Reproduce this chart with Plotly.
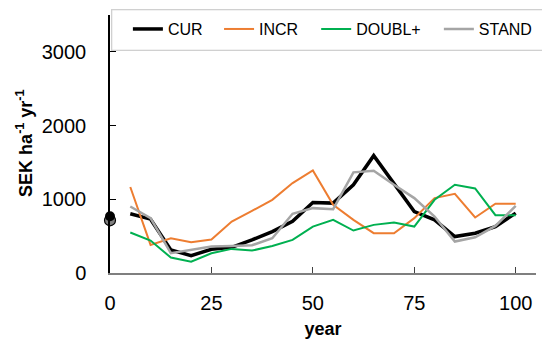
import plotly.graph_objects as go

years = [5, 10, 15, 20, 25, 30, 35, 40, 45, 50, 55, 60, 65, 70, 75, 80, 85, 90, 95, 100]
cur = [803, 730, 313, 236, 322, 349, 449, 562, 700, 957, 948, 1197, 1592, 1220, 834, 721, 494, 540, 630, 812]
incr = [1166, 381, 472, 417, 453, 698, 843, 993, 1220, 1392, 925, 721, 540, 540, 744, 1016, 1075, 753, 939, 939]
doubl = [549, 440, 209, 154, 268, 327, 304, 367, 449, 630, 721, 576, 653, 685, 630, 993, 1197, 1147, 785, 785]
stand = [902, 744, 268, 313, 358, 367, 376, 472, 803, 880, 866, 1365, 1388, 1197, 1016, 766, 426, 485, 639, 912]

start_year = [0]
cur_start = [770]
stand_start = [715]

names = ["CUR", "INCR", "DOUBL+", "STAND"]
colors = ["#000000", "#ED7D31", "#00B050", "#A5A5A5"]
widths = [3.5, 2, 2, 2.5]
series = [cur, incr, doubl, stand]

FONT = "Liberation Sans"
fig = go.Figure()

legend_x = [0.042, 0.256, 0.484, 0.772]
for i, (n, c, w, s) in enumerate(zip(names, colors, widths, series)):
    lg = "legend" if i == 0 else f"legend{i+1}"
    fig.add_trace(go.Scatter(x=years, y=s, mode="lines", name=n,
                             line=dict(color=c, width=w), legend=lg))

fig.add_trace(go.Scatter(x=start_year, y=stand_start, mode="markers", showlegend=False,
                         cliponaxis=False,
                         marker=dict(color="#7F7F7F", size=11, line=dict(color="#000000", width=1.2))))
fig.add_trace(go.Scatter(x=start_year, y=cur_start, mode="markers", showlegend=False,
                         cliponaxis=False,
                         marker=dict(color="#000000", size=10, line=dict(width=0))))

leg_common = dict(orientation="h", bgcolor="rgba(0,0,0,0)", borderwidth=0,
                  font=dict(family=FONT, size=16, color="#000000"),
                  xanchor="left", yanchor="middle", y=0.924, yref="paper", xref="paper")
layout_legs = {}
for i, lx in enumerate(legend_x):
    key = "legend" if i == 0 else f"legend{i+1}"
    layout_legs[key] = dict(leg_common, x=lx)

fig.update_layout(
    width=542, height=344,
    margin=dict(l=110, r=4, t=9, b=71),
    paper_bgcolor="white", plot_bgcolor="rgba(0,0,0,0)",
    font=dict(family=FONT, size=20, color="#000000"),
    **layout_legs,
    annotations=[
        dict(text="<b>SEK ha<sup>-1</sup> yr<sup>-1</sup></b>", textangle=-90,
             xref="paper", yref="paper", x=0, y=0.489, xshift=-85,
             xanchor="center", yanchor="middle", showarrow=False,
             font=dict(family=FONT, size=18, color="#000000")),
        dict(text=" ", xref="paper", yref="paper", x=0, y=1.0, xshift=1,
             xanchor="left", yanchor="top", showarrow=False, width=450, height=39,
             bordercolor="#D0D0D0", borderwidth=1.3, borderpad=0,
             bgcolor="rgba(0,0,0,0)", font=dict(size=10)),
    ],
    xaxis=dict(range=[0, 105], tickvals=[0, 25, 50, 75, 100], ticks="inside", ticklen=6,
               tickcolor="#404040", tickwidth=1.3,
               showline=True, linecolor="#7F7F7F", linewidth=2, showgrid=False, zeroline=False,
               ticklabelstandoff=11, tickfont=dict(size=20),
               title=dict(text="<b>year</b>", font=dict(size=18), standoff=9)),
    yaxis=dict(domain=[0, 0.9773], range=[0, 3500], tickvals=[0, 1000, 2000, 3000],
               ticks="inside", ticklen=6, tickcolor="#000000", tickwidth=1.3,
               showline=True, linecolor="#000000", linewidth=1.5, showgrid=False, zeroline=False,
               ticklabelstandoff=18, tickfont=dict(size=20)),
)

fig.write_html("out.html")
